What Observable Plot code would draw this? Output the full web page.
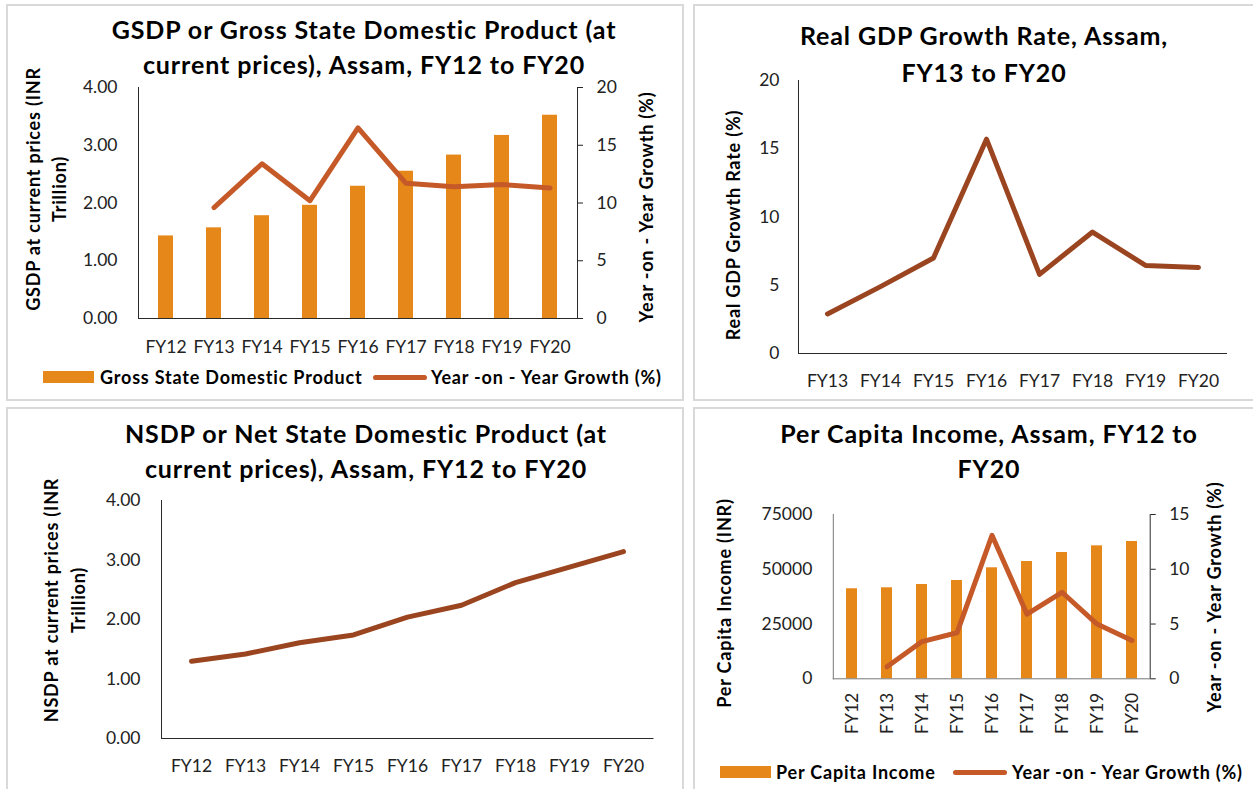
<!DOCTYPE html>
<html>
<head>
<meta charset="utf-8">
<script src="https://cdn.jsdelivr.net/npm/d3@7"></script>
<script src="https://cdn.jsdelivr.net/npm/@observablehq/plot@0.6"></script>
<style>
  html, body { margin: 0; padding: 0; background: #fff; }
  #root { position: relative; width: 1253px; height: 789px; overflow: hidden; font-family: Lato, "Open Sans", sans-serif; color: #000; }
  .panel { position: absolute; border: 2px solid #d9d9d9; box-sizing: border-box; }
  .title { position: absolute; transform: translateX(-50%); text-align: center; font-weight: 700; font-size: 25px; letter-spacing: 0.9px; white-space: nowrap; color: #000; }
  .vlabel { position: absolute; transform: translate(-50%, -50%) rotate(-90deg); text-align: center; font-weight: 700; font-size: 18px; letter-spacing: 0.8px; white-space: nowrap; color: #000; }
  .leg { position: absolute; font-weight: 700; font-size: 18px; letter-spacing: 0.8px; white-space: nowrap; transform: translateY(-50%); color: #000; }
  .sw { position: absolute; }
  svg { position: absolute; }
</style>
</head>
<body>
<div id="root"></div>
<script>
// ---------- data ----------
const categories = ["FY12","FY13","FY14","FY15","FY16","FY17","FY18","FY19","FY20"];
const growthCategories = ["FY13","FY14","FY15","FY16","FY17","FY18","FY19","FY20"];

const gsdpValues = [1.43, 1.57, 1.78, 1.96, 2.29, 2.55, 2.83, 3.17, 3.52];
const gsdpGrowth = [9.6, 13.4, 10.2, 16.5, 11.7, 11.4, 11.6, 11.3];

const realGdpGrowth = [2.9, 4.9, 7.0, 15.7, 5.8, 8.9, 6.45, 6.3];

const nsdpValues = [1.30, 1.42, 1.61, 1.74, 2.04, 2.24, 2.62, 2.88, 3.14];

const perCapitaIncome = [41100, 41550, 43050, 44870, 50670, 53540, 57650, 60700, 62680];
const perCapitaGrowth = [1.1, 3.4, 4.2, 13.1, 5.9, 7.9, 5.0, 3.5];

const gsdpTicks = [0, 1, 2, 3, 4];
const growthTicks20 = [0, 5, 10, 15, 20];
const nsdpTicks = [0, 1, 2, 3, 4];
const pciTicks = [0, 25000, 50000, 75000];
const pciGrowthTicks = [0, 5, 10, 15];

// ---------- styles ----------
const BAR = "#E6871A";
const RUST = "#C55A28";
const BROWN = "#9A4520";
const AXIS = "#2a2a2a";
const FS = 17.5;
const FONT = { fontFamily: "Lato, 'Open Sans', sans-serif", fontSize: FS + "px", color: "#222", background: "transparent", overflow: "visible" };

const root = document.getElementById("root");
function put(el, left, top) { el.style.left = left + "px"; el.style.top = top + "px"; root.appendChild(el); return el; }
function div(cls, html, left, top, extra) {
  const d = document.createElement("div"); d.className = cls; d.innerHTML = html;
  if (extra) Object.assign(d.style, extra);
  return put(d, left, top);
}
const rows = (cats, vals) => cats.map((c, i) => ({cat: c, v: vals[i]}));

// panel borders
div("panel", "", 6, 4, {width: "678px", height: "397px"});
div("panel", "", 693, 4, {width: "600px", height: "397px"});
div("panel", "", 6, 407, {width: "678px", height: "420px"});
div("panel", "", 693, 407, {width: "600px", height: "420px"});

// ================= Panel 1: GSDP =================
{
  const W = 680, H = 310, top = 70, left = 0;
  const m = {marginLeft: 138, marginRight: 103, marginTop: 17, marginBottom: 62};
  const xs = {type: "band", domain: categories, paddingInner: 0.68, paddingOuter: 0.34, label: null};
  const bars = Plot.plot({
    width: W, height: H, ...m, style: FONT,
    x: xs, y: {domain: [0, 4], label: null},
    marks: [
      Plot.barY(rows(categories, gsdpValues), {x: "cat", y: "v", fill: BAR}),
      Plot.ruleY([0], {stroke: AXIS}),
      Plot.frame({anchor: "left", stroke: AXIS}),
      Plot.axisY({ticks: gsdpTicks, tickFormat: d3.format(".2f"), tickSize: 0, tickPadding: 21, fontSize: FS}),
      Plot.axisX({tickSize: 0, tickPadding: 22, fontSize: FS})
    ]
  });
  put(bars, left, top);
  const line = Plot.plot({
    width: W, height: H, ...m, style: FONT,
    x: {...xs, axis: null}, y: {domain: [0, 20], label: null, axis: null},
    marks: [
      Plot.line(rows(growthCategories, gsdpGrowth), {x: "cat", y: "v", stroke: RUST, strokeWidth: 5, strokeLinejoin: "round", strokeLinecap: "round"}),
      Plot.frame({anchor: "right", stroke: AXIS}),
      Plot.axisY({anchor: "right", ticks: growthTicks20, tickSize: 5, tickPadding: 14, fontSize: FS})
    ]
  });
  put(line, left, top);
  div("title", "GSDP or Gross State Domestic Product (at<br>current prices), Assam, FY12 to FY20", 364, 12, {lineHeight: "35px"});
  div("vlabel", "GSDP at current prices (INR<br>Trillion)", 45.5, 189, {lineHeight: "26px"});
  div("vlabel", "Year -on - Year Growth (%)", 646, 207);
  div("sw", "", 43, 371, {width: "51px", height: "12px", background: BAR});
  div("leg", "Gross State Domestic Product", 100, 377);
  div("sw", "", 373, 374.5, {width: "54px", height: "5px", background: RUST, borderRadius: "3px"});
  div("leg", "Year -on - Year Growth (%)", 431, 377);
}

// ================= Panel 2: Real GDP growth =================
{
  const W = 573, H = 340, top = 60, left = 680;
  const p = Plot.plot({
    width: W, height: H, marginLeft: 118, marginRight: 26, marginTop: 20, marginBottom: 47, style: FONT,
    x: {type: "point", domain: growthCategories, padding: 0.5, label: null},
    y: {domain: [0, 20], label: null},
    marks: [
      Plot.ruleY([0], {stroke: AXIS}),
      Plot.frame({anchor: "left", stroke: AXIS}),
      Plot.line(rows(growthCategories, realGdpGrowth), {x: "cat", y: "v", stroke: BROWN, strokeWidth: 5, strokeLinejoin: "round", strokeLinecap: "round"}),
      Plot.axisY({ticks: growthTicks20, tickSize: 0, tickPadding: 19, fontSize: FS}),
      Plot.axisX({tickSize: 0, tickPadding: 21, fontSize: FS})
    ]
  });
  put(p, left, top);
  div("title", "Real GDP Growth Rate, Assam,<br>FY13 to FY20", 984, 16.5, {lineHeight: "37px"});
  div("vlabel", "Real GDP Growth Rate (%)", 733, 225);
}

// ================= Panel 3: NSDP =================
{
  const W = 680, H = 309, top = 480, left = 0;
  const p = Plot.plot({
    width: W, height: H, marginLeft: 161, marginRight: 26.5, marginTop: 20, marginBottom: 51, style: FONT,
    x: {type: "point", domain: categories, padding: 0.5, label: null},
    y: {domain: [0, 4], label: null},
    marks: [
      Plot.ruleY([0], {stroke: AXIS}),
      Plot.frame({anchor: "left", stroke: AXIS}),
      Plot.line(rows(categories, nsdpValues), {x: "cat", y: "v", stroke: BROWN, strokeWidth: 5, strokeLinejoin: "round", strokeLinecap: "round"}),
      Plot.axisY({ticks: nsdpTicks, tickFormat: d3.format(".2f"), tickSize: 0, tickPadding: 21, fontSize: FS}),
      Plot.axisX({tickSize: 0, tickPadding: 21, fontSize: FS})
    ]
  });
  put(p, left, top);
  div("title", "NSDP or Net State Domestic Product (at<br>current prices), Assam, FY12 to FY20", 366, 415.5, {lineHeight: "35px"});
  div("vlabel", "NSDP at current prices (INR<br>Trillion)", 64.5, 600, {lineHeight: "27px"});
}

// ================= Panel 4: Per capita income =================
{
  const W = 573, H = 255, top = 495, left = 680;
  const m = {marginLeft: 152.8, marginRight: 103.3, marginTop: 19, marginBottom: 71.7};
  const xs = {type: "band", domain: categories, paddingInner: 0.68, paddingOuter: 0.34, label: null};
  const bars = Plot.plot({
    width: W, height: H, ...m, style: FONT,
    x: xs, y: {domain: [0, 75000], label: null},
    marks: [
      Plot.barY(rows(categories, perCapitaIncome), {x: "cat", y: "v", fill: BAR}),
      Plot.ruleY([0], {stroke: "#777"}),
      Plot.frame({anchor: "left", stroke: "#777"}),
      Plot.axisY({ticks: pciTicks, tickFormat: d3.format("d"), tickSize: 0, tickPadding: 21, fontSize: FS}),
      Plot.axisX({tickSize: 0, tickPadding: 14, tickRotate: -90, fontSize: FS})
    ]
  });
  put(bars, left, top);
  const line = Plot.plot({
    width: W, height: H, ...m, style: FONT,
    x: {...xs, axis: null}, y: {domain: [0, 15], label: null, axis: null},
    marks: [
      Plot.line(rows(growthCategories, perCapitaGrowth), {x: "cat", y: "v", stroke: RUST, strokeWidth: 5, strokeLinejoin: "round", strokeLinecap: "round"}),
      Plot.frame({anchor: "right", stroke: AXIS}),
      Plot.axisY({anchor: "right", ticks: pciGrowthTicks, tickSize: 5, tickPadding: 14, fontSize: FS})
    ]
  });
  put(line, left, top);
  div("title", "Per Capita Income, Assam, FY12 to<br>FY20", 989, 415.5, {lineHeight: "35px"});
  div("vlabel", "Per Capita Income (INR)", 724, 603);
  div("vlabel", "Year -on - Year Growth (%)", 1213.6, 597);
  div("sw", "", 720, 766, {width: "51px", height: "12px", background: BAR});
  div("leg", "Per Capita Income", 776, 772);
  div("sw", "", 953, 769.5, {width: "54px", height: "5px", background: RUST, borderRadius: "3px"});
  div("leg", "Year -on - Year Growth (%)", 1012, 772);
}
</script>
</body>
</html>
